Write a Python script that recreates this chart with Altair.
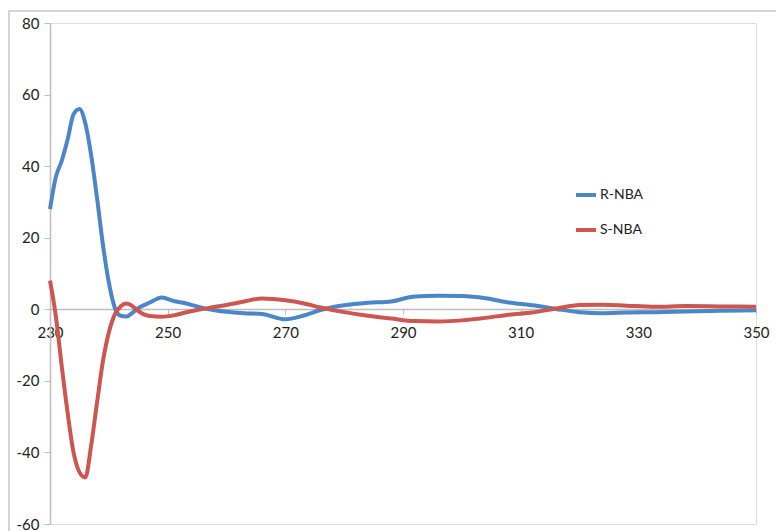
import altair as alt
import pandas as pd

wavelength = [230, 231, 232, 233, 234, 235, 236, 237, 238, 239, 240, 241, 242, 243, 244, 245,
              247, 249, 251, 253, 255, 257, 260, 263, 266, 270, 273, 276, 280, 284, 288, 292,
              296, 300, 304, 308, 312, 316, 320, 324, 328, 333, 338, 344, 350]
r_nba = [28, 37, 41.5, 47.5, 54.5, 56, 52, 43, 31, 18, 7.5, 0.5, -1.8, -2, -1, 0.3,
         1.9, 3.3, 2.3, 1.7, 0.8, 0, -0.7, -1.1, -1.3, -2.8, -1.8, -0.2, 1.1, 1.8, 2.2, 3.6,
         3.8, 3.7, 3.1, 1.9, 1.1, 0.1, -0.8, -1.1, -0.9, -0.8, -0.6, -0.4, -0.3]
s_nba = [8, -2, -16, -29, -40, -45.5, -47, -38, -26, -14.5, -6.5, -1.5, 0.8, 1.6, 0.9, -0.5,
         -1.9, -2.1, -1.7, -0.9, -0.2, 0.4, 1.2, 2.2, 3.0, 2.5, 1.7, 0.5, -0.8, -1.8, -2.6, -3.3,
         -3.4, -3.1, -2.4, -1.5, -0.9, 0.2, 1.2, 1.3, 1.0, 0.7, 0.9, 0.8, 0.7]
series_names = ["R-NBA", "S-NBA"]
colors = ["#4A86C8", "#CD5650"]
x_ticks = [230, 250, 270, 290, 310, 330, 350]
y_ticks = [-60, -40, -20, 0, 20, 40, 60, 80]

rows = []
for w, r, s in zip(wavelength, r_nba, s_nba):
    rows.append({"wl": w, "v": r, "series": series_names[0]})
    rows.append({"wl": w, "v": s, "series": series_names[1]})
df = pd.DataFrame(rows)

FONT = "Lato"

border = alt.Chart(pd.DataFrame({"a": [0]})).mark_rect(
    fill=None, stroke="#C8C8C8", strokeWidth=1.5
).encode(
    x=alt.value(-41), y=alt.value(-12), x2=alt.value(800), y2=alt.value(560)
)

lines = alt.Chart(df).mark_line(strokeWidth=4, interpolate="monotone").encode(
    x=alt.X("wl:Q", scale=alt.Scale(domain=[230, 350], nice=False, zero=False),
            axis=alt.Axis(values=x_ticks, title=None, grid=False, offset=-215,
                          domainColor="#BDBDBD", domainWidth=1.5, tickColor="#BDBDBD",
                          tickSize=5, labelPadding=11, labelFont=FONT, labelFontSize=15,
                          labelColor="#222222", labelFlush=False,
                          labelExpr="datum.value + ''")),
    y=alt.Y("v:Q", scale=alt.Scale(domain=[-60, 80], nice=False),
            axis=alt.Axis(values=y_ticks, title=None, grid=False,
                          domainColor="#BDBDBD", domainWidth=1.5, tickColor="#BDBDBD",
                          tickSize=6, labelPadding=5, labelFont=FONT, labelFontSize=15,
                          labelColor="#222222", labelExpr="datum.value + ''")),
    color=alt.Color("series:N", scale=alt.Scale(domain=series_names, range=colors),
                    legend=alt.Legend(title=None, orient="none", legendX=524, legendY=160,
                                      symbolType="stroke", symbolStrokeWidth=4, symbolSize=400,
                                      labelFont=FONT, labelFontSize=14, labelColor="#222222",
                                      rowPadding=15, labelOffset=2))
)

chart = alt.layer(border, lines).properties(
    width=706, height=501,
    padding={"left": 50, "top": 23, "right": 20, "bottom": 7},
    autosize=alt.AutoSizeParams(type="none")
).configure_view(stroke=None).configure(background="white")

chart.save("out.html", embed_options={"renderer": "svg", "actions": False})
